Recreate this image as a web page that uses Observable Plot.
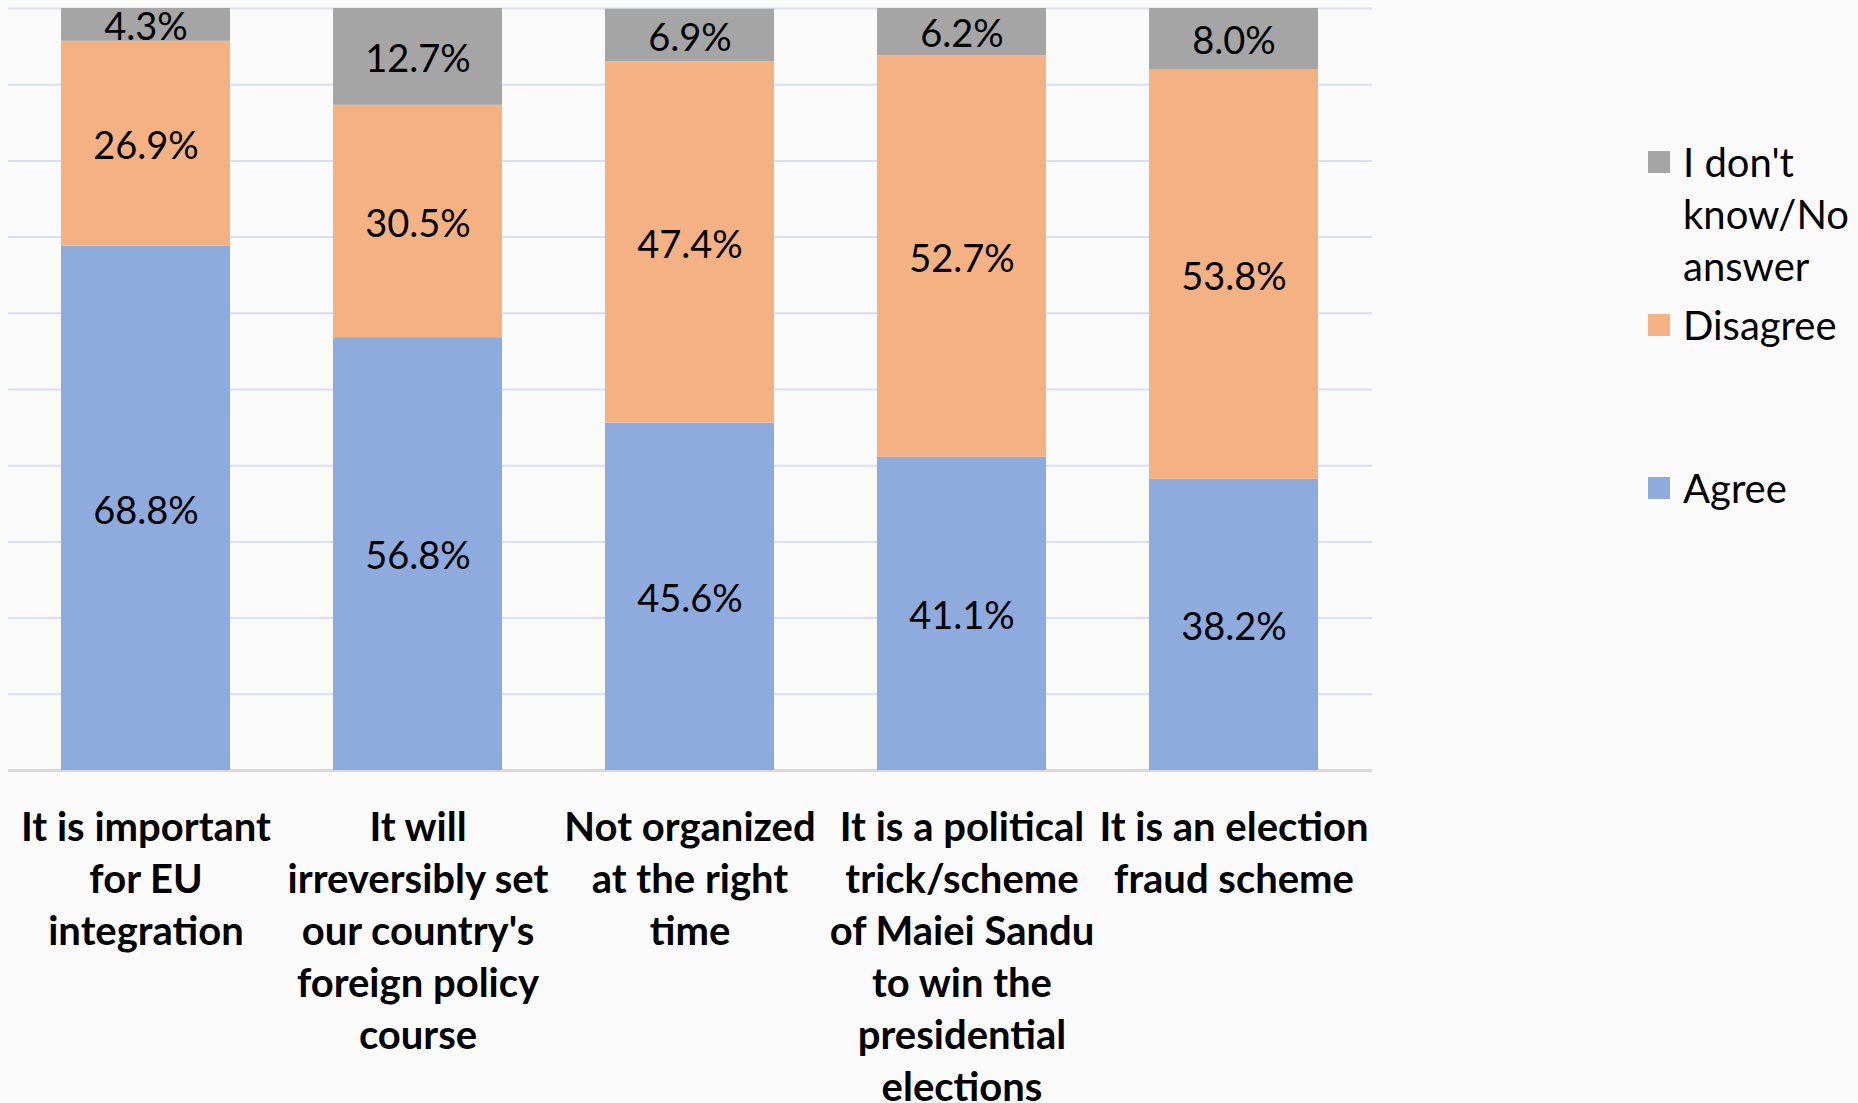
<!DOCTYPE html>
<html>
<head>
<meta charset="utf-8">
<script src="https://cdn.jsdelivr.net/npm/d3@7"></script>
<script src="https://cdn.jsdelivr.net/npm/@observablehq/plot@0.6"></script>
<style>
  html, body { margin: 0; padding: 0; background: #fafafa; overflow: hidden; }
  #wrap { position: relative; width: 1858px; height: 1103px; overflow: hidden; font-family: Lato, "Open Sans", sans-serif; }
  #chart { position: absolute; left: 0; top: 0; }
  .item { position: absolute; left: 1648px; display: flex; align-items: flex-start; }
  .sw { width: 22px; height: 22px; margin-top: 15px; flex: none; }
  .lab { margin-left: 13px; font-size: 40px; line-height: 52px; color: #000; white-space: nowrap; }
</style>
</head>
<body>
<div id="wrap">
  <div id="chart"></div>
</div>
<script>
const categories = [
  "It is important\nfor EU\nintegration",
  "It will\nirreversibly set\nour country's\nforeign policy\ncourse",
  "Not organized\nat the right\ntime",
  "It is a political\ntrick/scheme\nof Maiei Sandu\nto win the\npresidential\nelections",
  "It is an election\nfraud scheme"
];
const series = ["Agree", "Disagree", "I don't know/No answer"];
const agree    = [68.8, 56.8, 45.6, 41.1, 38.2];
const disagree = [26.9, 30.5, 47.4, 52.7, 53.8];
const dontKnow = [4.3, 12.7, 6.9, 6.2, 8.0];
const colors = ["#8faadc", "#f4b183", "#a5a5a5"];
const gridTicks = [10, 20, 30, 40, 50, 60, 70, 80, 90, 100];
// legend drawn top to bottom
const legendOrder = ["I don't know/No answer", "Disagree", "Agree"];
const legendLines = [["I don't", "know/No", "answer"], ["Disagree"], ["Agree"]];

const valuesBySeries = [agree, disagree, dontKnow];
const data = [];
categories.forEach((c, i) => {
  series.forEach((s, j) => data.push({cat: c, series: s, value: valuesBySeries[j][i]}));
});

const chart = Plot.plot({
  width: 1858,
  height: 1103,
  marginLeft: 8,
  marginRight: 486,
  marginTop: 8,
  marginBottom: 333,
  style: {background: "transparent", fontFamily: "Lato, 'Open Sans', sans-serif", color: "#000"},
  x: {domain: categories, paddingInner: 0.377, paddingOuter: 0.19, label: null},
  y: {domain: [0, 100], axis: null},
  color: {domain: series, range: colors},
  marks: [
    Plot.gridY(gridTicks, {stroke: "#d7e0f1", strokeOpacity: 1, strokeWidth: 2}),
    Plot.ruleY([0], {stroke: "#d9d9d9", strokeWidth: 3}),
    Plot.barY(data, {x: "cat", y: "value", fill: "series", order: series}),
    Plot.text(data, Plot.stackY({
      x: "cat", y: "value", z: "series", order: series,
      text: d => d.value.toFixed(1) + "%",
      fill: "#000", fontSize: 38, dy: 3
    })),
    Plot.axisX({
      tickSize: 0, tickPadding: 34, fontSize: 40, fontWeight: "bold",
      lineHeight: 1.3, lineAnchor: "top", fill: "#000", label: null
    })
  ]
});
document.getElementById("chart").appendChild(chart);

// legend
const wrap = document.getElementById("wrap");
const legendTops = [136, 299, 462];
legendOrder.forEach((s, k) => {
  const item = document.createElement("div");
  item.className = "item";
  item.style.top = legendTops[k] + "px";
  const sw = document.createElement("div");
  sw.className = "sw";
  sw.style.background = colors[series.indexOf(s)];
  const lab = document.createElement("div");
  lab.className = "lab";
  lab.innerHTML = legendLines[k].join("<br>");
  item.appendChild(sw);
  item.appendChild(lab);
  wrap.appendChild(item);
});
</script>
</body>
</html>
